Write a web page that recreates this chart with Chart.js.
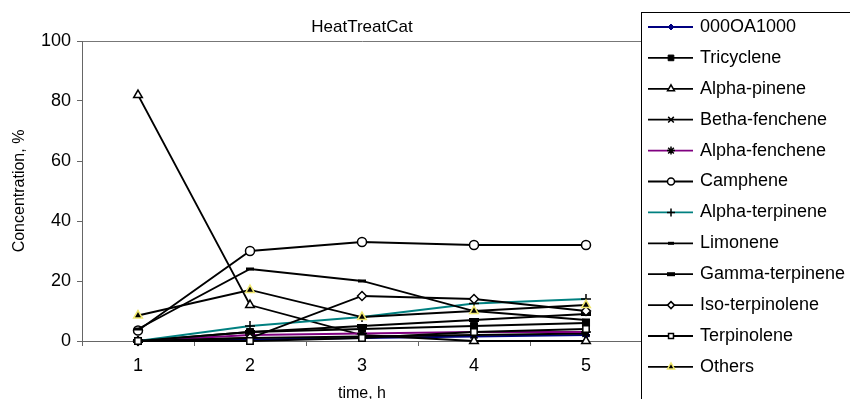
<!DOCTYPE html>
<html><head><meta charset="utf-8">
<script src="https://cdn.jsdelivr.net/npm/chart.js@4.4.0/dist/chart.umd.min.js"></script>
<style>html,body{margin:0;padding:0;background:#fff;overflow:hidden}#wrap{width:850px;height:399px;position:relative}</style>
</head><body><div id="wrap"><canvas id="c" width="850" height="399" style="width:850px;height:399px"></canvas></div>
<script>
const categories = ['1', '2', '3', '4', '5'];
const yTicks = [0, 20, 40, 60, 80, 100];
const chartTitle = 'HeatTreatCat';
const xTitle = 'time, h';
const yTitle = 'Concentration, %';

const s000OA1000      = [0, 0.5, 1, 1.5, 2];
const sTricyclene     = [0, 3, 4, 5, 6];
const sAlphaPinene    = [82, 12, 2, 0, 0];
const sBethaFenchene  = [0, 1, 1.5, 2, 2.5];
const sAlphaFenchene  = [0, 2, 2.5, 3, 3];
const sCamphene       = [3.5, 30, 33, 32, 32];
const sAlphaTerpinene = [0, 5, 8, 12.5, 14];
const sLimonene       = [4, 24, 20, 10, 7];
const sGammaTerpinene = [0, 3, 5, 7, 9];
const sIsoTerpinolene = [0, 1, 15, 14, 10];
const sTerpinolene    = [0, 0, 1, 3, 4];
const sOthers         = [8.5, 17, 8, 10, 12];

const FONT = '"Liberation Sans", Arial, sans-serif';

function mk(label, data, line, style, radius, bg, border, bw) {
  return {
    label, data, borderColor: line, borderWidth: 1.8, tension: 0, fill: false,
    pointStyle: style, pointRadius: radius, pointHoverRadius: radius,
    pointBackgroundColor: bg, pointBorderColor: border, pointBorderWidth: bw,
    clip: false
  };
}

const datasets = [
  mk('000OA1000', s000OA1000, '#000080', 'rectRot', 4, '#000080', '#000080', 1),
  mk('Tricyclene', sTricyclene, '#000000', 'rect', 5, '#000000', '#000000', 1),
  mk('Alpha-pinene', sAlphaPinene, '#000000', 'triangle', 5, '#ffffff', '#000000', 1.5),
  mk('Betha-fenchene', sBethaFenchene, '#000000', 'crossRot', 5, '#000000', '#000000', 1.5),
  mk('Alpha-fenchene', sAlphaFenchene, '#800080', 'star', 5, '#000000', '#000000', 1.5),
  mk('Camphene', sCamphene, '#000000', 'circle', 4.5, '#ffffff', '#000000', 1.5),
  mk('Alpha-terpinene', sAlphaTerpinene, '#008080', 'cross', 5, '#000000', '#000000', 1.5),
  mk('Limonene', sLimonene, '#000000', 'line', 4, '#000000', '#000000', 3),
  mk('Gamma-terpinene', sGammaTerpinene, '#000000', 'line', 5, '#000000', '#000000', 4),
  mk('Iso-terpinolene', sIsoTerpinolene, '#000000', 'rectRot', 4.5, '#ffffff', '#000000', 1.5),
  mk('Terpinolene', sTerpinolene, '#000000', 'rect', 4.5, '#ffffff', '#000000', 1.5),
  mk('Others', sOthers, '#000000', 'triangle', 5, '#000000', '#f0e870', 1.5)
];
datasets.forEach((d, i) => { d.order = datasets.length - i; });

const titlePlugin = {
  id: 'topTitle',
  afterDraw(chart) {
    const ctx = chart.ctx, a = chart.chartArea;
    ctx.save();
    ctx.fillStyle = '#000';
    ctx.font = '17px ' + FONT;
    ctx.textAlign = 'center';
    ctx.textBaseline = 'middle';
    ctx.fillText(chartTitle, (a.left + a.right) / 2, 27);
    ctx.restore();
  }
};

const legendPlugin = {
  id: 'boxLegend',
  afterDraw(chart) {
    const ctx = chart.ctx;
    ctx.save();
    ctx.fillStyle = '#fff';
    ctx.fillRect(641.5, 12.5, 300, 500);
    ctx.strokeStyle = '#000';
    ctx.lineWidth = 1;
    ctx.strokeRect(641.5, 12.5, 300, 500);
    chart.data.datasets.forEach((ds, i) => {
      const y = 27 + i * 30.9;
      ctx.strokeStyle = ds.borderColor;
      ctx.lineWidth = ds.borderWidth;
      ctx.beginPath(); ctx.moveTo(648, y); ctx.lineTo(693, y); ctx.stroke();
      ctx.fillStyle = ds.pointBackgroundColor;
      ctx.strokeStyle = ds.pointBorderColor;
      ctx.lineWidth = ds.pointBorderWidth;
      const r = Math.max(3, ds.pointRadius - 1);
      Chart.helpers.drawPoint(ctx, { pointStyle: ds.pointStyle, radius: r, borderWidth: ds.pointBorderWidth, rotation: 0 }, 671, y);
      ctx.fillStyle = '#000';
      ctx.font = '18px ' + FONT;
      ctx.textAlign = 'left';
      ctx.textBaseline = 'middle';
      ctx.fillText(ds.label, 700, y);
    });
    ctx.restore();
  }
};

new Chart(document.getElementById('c'), {
  type: 'line',
  data: { labels: categories, datasets },
  plugins: [titlePlugin, legendPlugin],
  options: {
    responsive: false,
    animation: false,
    layout: { padding: { top: 41, right: 208, left: 0, bottom: 0 } },
    plugins: { legend: { display: false }, title: { display: false }, tooltip: { enabled: false } },
    scales: {
      x: {
        type: 'category',
        offset: true,
        afterFit(s) { s.height = 58; },
        grid: { offset: true, drawOnChartArea: false, drawTicks: true, tickLength: 5, tickColor: '#666' },
        border: { color: '#666', width: 1 },
        ticks: { color: '#000', font: { size: 18, family: FONT }, padding: 9 },
        title: { display: true, text: xTitle, color: '#000', font: { size: 16, family: FONT }, padding: { top: 0, bottom: -4 } }
      },
      y: {
        min: 0, max: 100,
        afterFit(s) { s.width = 82; },
        afterBuildTicks(s) { s.ticks = yTicks.map(v => ({ value: v })); },
        grid: {
          drawOnChartArea: true, tickLength: 5, tickColor: '#666',
          color: (c) => (c.tick && c.tick.value === 100 ? '#777' : 'rgba(0,0,0,0)')
        },
        border: { color: '#666', width: 1 },
        ticks: { color: '#000', font: { size: 18, family: FONT }, padding: 6 },
        title: { display: true, text: yTitle, color: '#000', font: { size: 16, family: FONT }, padding: { top: 10, bottom: 0 } }
      }
    }
  }
});
</script>
</body></html>
